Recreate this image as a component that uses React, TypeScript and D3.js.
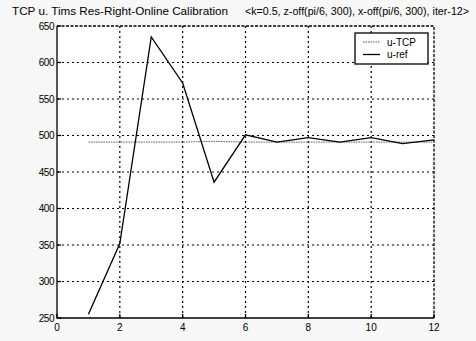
import { useEffect, useRef } from 'react';
import * as d3 from 'd3';

const iterations = [1, 2, 3, 4, 5, 6, 7, 8, 9, 10, 11, 12];
const uRef = [255, 352, 635, 572, 436, 501, 491, 497, 491, 497, 489, 494];
const uTcp = [491, 491, 491, 491, 492, 491, 491, 491, 491, 491, 491, 491];
const xTicks = [0, 2, 4, 6, 8, 10, 12];
const yTicks = [250, 300, 350, 400, 450, 500, 550, 600, 650];

export default function App() {
  const svgRef = useRef<SVGSVGElement>(null);

  useEffect(() => {
    if (!svgRef.current) return;
    const svg = d3.select(svgRef.current);
    svg.selectAll('*').remove();

    const left = 57, right = 434, top = 26, bottom = 318;
    const x = d3.scaleLinear().domain([0, 12]).range([left, right]);
    const y = d3.scaleLinear().domain([250, 650]).range([bottom, top]);
    const font = 'Arial, "Liberation Sans", sans-serif';

    svg.append('rect').attr('width', 476).attr('height', 341).attr('fill', '#f7f7f7');
    svg.append('rect')
      .attr('x', left).attr('y', top)
      .attr('width', right - left).attr('height', bottom - top)
      .attr('fill', '#fff');

    svg.append('text')
      .attr('x', 12).attr('y', 15)
      .attr('font-family', font).attr('font-size', 11)
      .attr('textLength', 216).attr('lengthAdjust', 'spacingAndGlyphs')
      .attr('fill', '#000')
      .text('TCP u. Tims Res-Right-Online Calibration');
    svg.append('text')
      .attr('x', 245).attr('y', 15)
      .attr('font-family', font).attr('font-size', 11)
      .attr('textLength', 224).attr('lengthAdjust', 'spacingAndGlyphs')
      .attr('fill', '#000')
      .text('<k=0.5, z-off(pi/6, 300), x-off(pi/6, 300), iter-12>');

    const grid = svg.append('g').attr('stroke', '#000').attr('stroke-width', 1.2).attr('stroke-dasharray', '2,3');
    xTicks.slice(1, -1).forEach(t => {
      grid.append('line').attr('x1', x(t)).attr('x2', x(t)).attr('y1', top).attr('y2', bottom);
    });
    yTicks.slice(1, -1).forEach(t => {
      grid.append('line').attr('x1', left).attr('x2', right).attr('y1', y(t)).attr('y2', y(t));
    });

    // box: solid left/bottom, dotted top/right
    svg.append('path')
      .attr('d', `M${left},${top}V${bottom}H${right}`)
      .attr('fill', 'none').attr('stroke', '#000').attr('stroke-width', 1.3);
    svg.append('path')
      .attr('d', `M${left},${top}H${right}V${bottom}`)
      .attr('fill', 'none').attr('stroke', '#000').attr('stroke-width', 1.3)
      .attr('stroke-dasharray', '3,1.5');

    const ticks = svg.append('g').attr('stroke', '#000').attr('stroke-width', 1.3);
    xTicks.forEach(t => {
      ticks.append('line').attr('x1', x(t)).attr('x2', x(t)).attr('y1', bottom).attr('y2', bottom - 4);
    });
    yTicks.forEach(t => {
      ticks.append('line').attr('x1', left).attr('x2', left + 4).attr('y1', y(t)).attr('y2', y(t));
    });

    svg.append('g').selectAll('text').data(yTicks).enter().append('text')
      .attr('x', left - 3).attr('y', d => y(d) + 3.5)
      .attr('text-anchor', 'end')
      .attr('font-family', font).attr('font-size', 10).attr('letter-spacing', -0.5)
      .text(d => d);
    svg.append('g').selectAll('text').data(xTicks).enter().append('text')
      .attr('x', d => x(d)).attr('y', bottom + 13)
      .attr('text-anchor', 'middle')
      .attr('font-family', font).attr('font-size', 10)
      .text(d => d);

    const line = d3.line<number>().x((_, i) => x(iterations[i])).y(d => y(d));
    svg.append('path')
      .attr('d', line(uTcp))
      .attr('fill', 'none').attr('stroke', '#555').attr('stroke-width', 1)
      .attr('stroke-dasharray', '1.5,1');
    svg.append('path')
      .attr('d', line(uRef))
      .attr('fill', 'none').attr('stroke', '#000').attr('stroke-width', 1.3);

    const lg = svg.append('g');
    lg.append('rect').attr('x', 355).attr('y', 33).attr('width', 73).attr('height', 31)
      .attr('fill', '#fff').attr('stroke', '#000').attr('stroke-width', 1.3);
    lg.append('line').attr('x1', 363).attr('x2', 380).attr('y1', 42).attr('y2', 42)
      .attr('stroke', '#555').attr('stroke-width', 1).attr('stroke-dasharray', '1.5,1');
    lg.append('line').attr('x1', 363).attr('x2', 380).attr('y1', 54.5).attr('y2', 54.5)
      .attr('stroke', '#000').attr('stroke-width', 1.3);
    lg.append('text').attr('x', 387).attr('y', 45.5)
      .attr('font-family', font).attr('font-size', 10).text('u-TCP');
    lg.append('text').attr('x', 387).attr('y', 58)
      .attr('font-family', font).attr('font-size', 10).text('u-ref');
  }, []);

  return (
    <svg ref={svgRef} width={476} height={341}
      style={{ position: 'absolute', left: 0, top: 0, display: 'block' }} />
  );
}
